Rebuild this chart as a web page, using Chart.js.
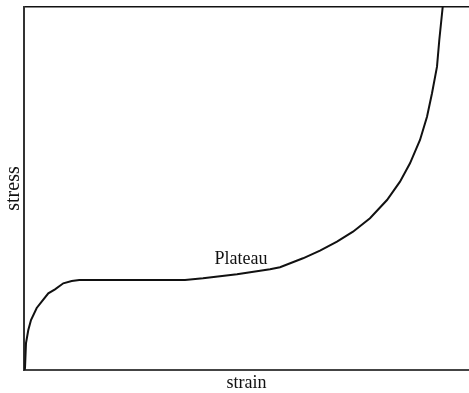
<!DOCTYPE html>
<html>
<head>
<meta charset="utf-8">
<script src="https://cdn.jsdelivr.net/npm/chart.js@4"></script>
<style>
  html, body { margin: 0; padding: 0; background: #fff; }
  #wrap { width: 469px; height: 393px; }
</style>
</head>
<body>
<div id="wrap"><canvas id="stressChart"></canvas></div>
<script>
// curve (arbitrary units)
const strain = [0.5, 1, 2, 4.3, 7, 12.7, 17.7, 24.3, 31, 39.3, 47.7, 55.3, 161, 179, 213, 246, 256, 279, 296, 313, 329, 346, 363, 376, 386, 396, 403, 408, 413, 415.3, 418.7];
const stress = [0, 2, 27, 40, 50, 62, 68.3, 76.7, 80.7, 86.7, 89, 90, 90, 91.7, 95.7, 100.7, 102.7, 111.7, 119.3, 128.3, 138.3, 151.7, 170, 188.3, 206.7, 230, 253.3, 276.7, 303.3, 330, 363];
const plateauLabel = { text: "Plateau", x: 217, y: 111 };
const xMax = 445;
const yMax = 363;

const serif = "'Liberation Serif', 'DejaVu Serif', serif";

const labelPlugin = {
    id: "plateauLabel",
    afterDatasetsDraw(chart) {
        const ctx = chart.ctx;
        const px = chart.scales.x.getPixelForValue(plateauLabel.x);
        const py = chart.scales.y.getPixelForValue(plateauLabel.y);
        ctx.save();
        ctx.font = "18px " + serif;
        ctx.fillStyle = "#111";
        ctx.textAlign = "center";
        ctx.textBaseline = "middle";
        ctx.fillText(plateauLabel.text, px, py);
        ctx.restore();
    },
};

new Chart(document.getElementById("stressChart"), {
    type: "line",
    data: {
        datasets: [{
            data: strain.map((s, i) => ({ x: s, y: stress[i] })),
            borderColor: "#111",
            borderWidth: 2,
            pointRadius: 0,
            tension: 0,
            fill: false,
        }],
    },
    options: {
        responsive: true,
        maintainAspectRatio: false,
        animation: false,
        layout: { padding: { top: 7, right: 0, left: 0, bottom: 0 } },
        plugins: {
            legend: { display: false },
            tooltip: { enabled: false },
        },
        scales: {
            x: {
                type: "linear",
                min: 0,
                max: xMax,
                ticks: { display: false },
                grid: { display: false, drawTicks: false },
                border: { display: true, color: "#444", width: 2 },
                title: {
                    display: true,
                    text: "strain",
                    color: "#111",
                    font: { family: serif, size: 18, lineHeight: 1 },
                    padding: { top: 4, bottom: 1 },
                },
            },
            xTop: {
                type: "linear",
                position: "top",
                min: 0,
                max: xMax,
                ticks: { display: false },
                grid: { display: false, drawTicks: false },
                border: { display: true, color: "#111", width: 1.5 },
            },
            y: {
                min: 0,
                max: yMax,
                ticks: { display: false },
                grid: { display: false, drawTicks: false },
                border: { display: true, color: "#333", width: 2 },
                title: {
                    display: true,
                    text: "stress",
                    color: "#111",
                    font: { family: serif, size: 20, lineHeight: 1.05 },
                    padding: { top: 3, bottom: 0 },
                },
            },
        },
    },
    plugins: [labelPlugin],
});
</script>
</body>
</html>
